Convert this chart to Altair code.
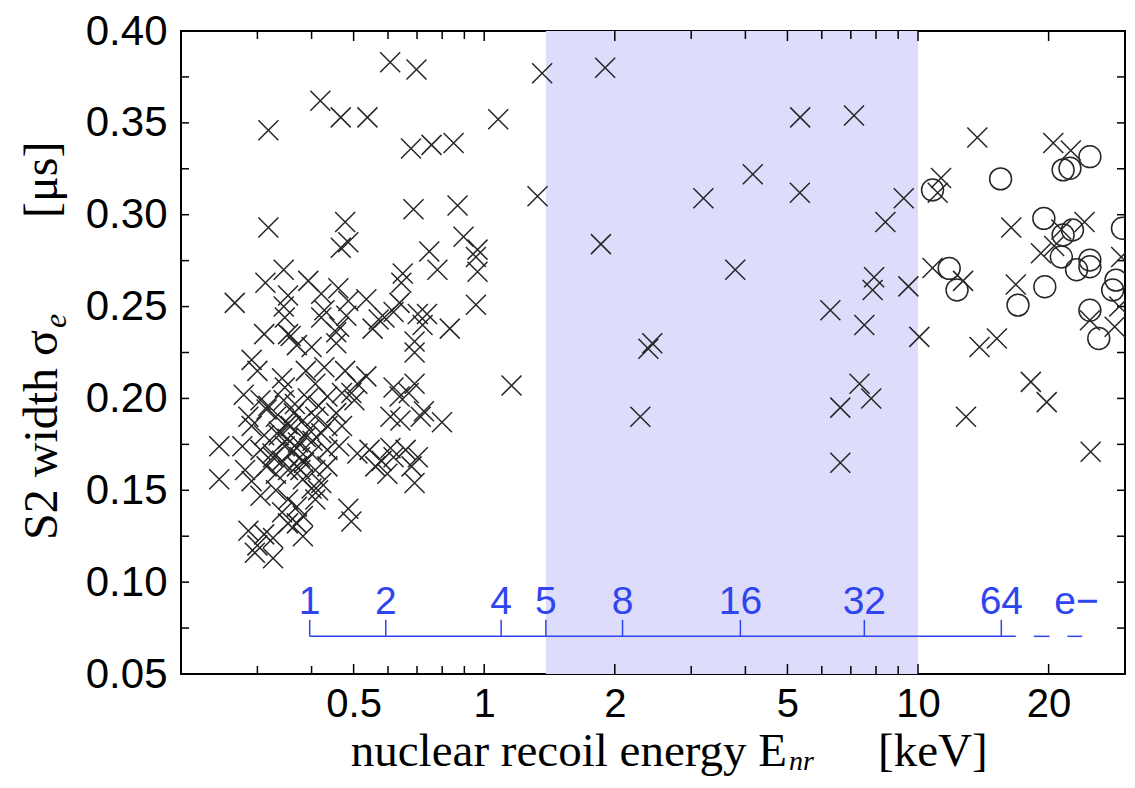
import altair as alt
import pandas as pd

# ---------------- data ----------------
cross_x = [
    0.607, 0.698, 1.36, 1.90, 0.419, 0.318, 0.467, 0.538, 1.077, 0.678, 0.756, 0.850,
    5.35, 7.12, 13.7, 20.5, 22.5, 4.16, 5.34, 11.3, 11.1, 1.327, 3.20, 9.27,
    0.687, 0.868, 0.318, 0.478, 0.896, 0.486, 0.467, 0.747, 0.965, 1.858, 8.41, 16.4,
    24.2, 21.4, 19.2, 29.4, 10.8, 12.7, 16.8, 7.92, 7.86, 9.5, 6.28, 7.52,
    10.07, 13.86, 15.2, 29.1, 28.4, 24.9, 3.79, 2.44, 2.39, 1.156, 2.29, 7.33,
    7.8, 6.62, 18.2, 19.8, 12.9, 25.0, 6.62, 0.957, 0.965, 0.957, 0.78, 20.6,
    # dense low-energy cluster
    0.345, 0.313, 0.353, 0.393, 0.421, 0.461, 0.486, 0.535, 0.644, 0.638, 0.589, 0.703,
    0.721, 0.833, 0.266, 0.345, 0.347, 0.421, 0.428, 0.463, 0.481, 0.553, 0.571, 0.311,
    0.353, 0.291, 0.300, 0.358, 0.370, 0.400, 0.456, 0.456, 0.691, 0.691, 0.428, 0.478,
    0.510, 0.535, 0.279, 0.305, 0.342, 0.347, 0.388, 0.408, 0.435, 0.470, 0.494, 0.502,
    0.618, 0.638, 0.691, 0.670, 0.726, 0.799, 0.641, 0.608, 0.286, 0.291, 0.315, 0.331,
    0.364, 0.358, 0.382, 0.408, 0.435, 0.456, 0.470, 0.421, 0.388, 0.336, 0.311, 0.277,
    0.245, 0.245, 0.305, 0.326, 0.347, 0.370, 0.376, 0.400, 0.435, 0.463, 0.510, 0.544,
    0.580, 0.608, 0.618, 0.659, 0.703, 0.561, 0.598, 0.691, 0.680, 0.281, 0.291, 0.315,
    0.331, 0.353, 0.370, 0.382, 0.408, 0.421, 0.400, 0.435, 0.331, 0.305, 0.353, 0.370,
    0.382, 0.408, 0.414, 0.342, 0.353, 0.486, 0.494, 0.286, 0.311, 0.300, 0.296, 0.326,
    0.326, 0.382, 0.370, 0.649, 0.618, 0.738, 0.714,
    0.336, 0.352, 0.372, 0.395, 0.325, 0.342, 0.362, 0.384, 0.402, 0.318, 0.345, 0.366,
    0.392, 0.415, 0.352, 0.377,
]
cross_y = [
    0.383, 0.379, 0.377, 0.380, 0.362, 0.346, 0.353, 0.353, 0.352, 0.336, 0.338, 0.339,
    0.353, 0.354, 0.342, 0.339, 0.335, 0.322, 0.312, 0.320, 0.312, 0.310, 0.309, 0.309,
    0.303, 0.305, 0.293, 0.296, 0.288, 0.285, 0.282, 0.280, 0.281, 0.284, 0.296, 0.293,
    0.296, 0.292, 0.279, 0.277, 0.271, 0.264, 0.262, 0.266, 0.259, 0.261, 0.248, 0.240,
    0.2335, 0.228, 0.2326, 0.250, 0.239, 0.2426, 0.270, 0.230, 0.227, 0.207, 0.190, 0.208,
    0.200, 0.195, 0.209, 0.198, 0.190, 0.171, 0.165, 0.277, 0.269, 0.251, 0.270, 0.283,
    0.270, 0.263, 0.256, 0.264, 0.257, 0.260, 0.253, 0.254, 0.263, 0.252, 0.244, 0.246,
    0.240, 0.238, 0.252, 0.250, 0.244, 0.244, 0.248, 0.239, 0.245, 0.238, 0.243, 0.235,
    0.235, 0.221, 0.215, 0.234, 0.229, 0.228, 0.236, 0.230, 0.225, 0.231, 0.217, 0.215,
    0.208, 0.212, 0.202, 0.199, 0.211, 0.206, 0.215, 0.208, 0.201, 0.203, 0.203, 0.199,
    0.206, 0.201, 0.208, 0.203, 0.193, 0.187, 0.188, 0.190, 0.190, 0.185, 0.194, 0.190,
    0.192, 0.185, 0.188, 0.190, 0.185, 0.192, 0.185, 0.181, 0.179, 0.180, 0.180, 0.174,
    0.174, 0.156, 0.172, 0.168, 0.174, 0.173, 0.168, 0.170, 0.172, 0.174, 0.170, 0.172,
    0.166, 0.173, 0.168, 0.172, 0.168, 0.163, 0.159, 0.154, 0.163, 0.161, 0.155, 0.163,
    0.159, 0.161, 0.163, 0.156, 0.161, 0.154, 0.151, 0.163, 0.150, 0.147, 0.145, 0.141,
    0.136, 0.145, 0.150, 0.138, 0.132, 0.140, 0.133, 0.128, 0.126, 0.120, 0.116, 0.113,
    0.124, 0.125, 0.132, 0.268, 0.247, 0.246, 0.190,
    0.182, 0.178, 0.176, 0.183, 0.170, 0.166, 0.171, 0.165, 0.177, 0.196, 0.199, 0.197,
    0.200, 0.196, 0.186, 0.161,
]
circle_x = [10.8, 15.5, 21.6, 22.4, 24.9, 19.5, 21.6, 22.7, 21.4, 23.2, 24.9, 24.9,
            29.6, 28.6, 28.1, 24.9, 26.1, 19.6, 17.0, 11.8, 12.3]
circle_y = [0.3135, 0.3195, 0.3244, 0.3253, 0.3316, 0.298, 0.289, 0.2917, 0.277, 0.270,
            0.2753, 0.2717, 0.2926, 0.2644, 0.259, 0.248, 0.2326, 0.2608, 0.2508, 0.2708, 0.259]

shade_start = [1.387]
shade_end = [10.0]

x_major = [0.5, 1, 2, 5, 10, 20]
x_minor = [0.3, 0.4, 0.6, 0.7, 0.8, 0.9, 3, 4, 6, 7, 8, 9]
y_major = [0.05, 0.10, 0.15, 0.20, 0.25, 0.30, 0.35, 0.40]
y_minor = [0.075, 0.125, 0.175, 0.225, 0.275, 0.325, 0.375]

e_tick_energy = [0.396, 0.593, 1.094, 1.387, 2.084, 3.895, 7.52, 15.56]
e_tick_label = ["1", "2", "4", "5", "8", "16", "32", "64"]
e_line_start = [0.396]
e_line_end = [16.8]
e_dash_start = [18.5, 22.1]
e_dash_end = [20.1, 23.9]
e_line_y = [0.0705]
e_tick_top = [0.0795]
e_label_y = [0.0825]
e_unit_x = [23.2]
e_unit_text = ["e\u2212"]

# ---------------- layout / style ----------------
W, H = 944, 643
BLUE = "#2f45f0"
INK = "#262626"
SANS = "Liberation Sans"
SERIF = "Liberation Serif"

xs = alt.Scale(type="log", domain=[0.2, 30], nice=False)
ys = alt.Scale(domain=[0.05, 0.40], nice=False, zero=False)

x_axis = alt.Axis(values=x_major, format="~g", domain=False, ticks=False, tickSize=0,
                  grid=False, labelFont=SANS, labelFontSize=40, labelColor="black",
                  labelPadding=10, labelFlush=False, title=None)
y_axis = alt.Axis(values=y_major, format=".2f", domain=False, ticks=False, tickSize=0,
                  grid=False, labelFont=SANS, labelFontSize=42, labelColor="black",
                  labelPadding=14, title=None)


def X(field):
    return alt.X(field, scale=xs, axis=x_axis)


def Y(field):
    return alt.Y(field, scale=ys, axis=y_axis)


shade = alt.Chart(pd.DataFrame({"a": shade_start, "b": shade_end})).mark_rect(
    color="#dddcfa").encode(
    x=X("a:Q"), x2="b:Q", y=alt.value(0), y2=alt.value(H))

cross_path = "M-1,-1L1,1M-1,1L1,-1"
crosses = alt.Chart(pd.DataFrame({"x": cross_x, "y": cross_y})).mark_point(
    shape=cross_path, filled=False, size=400, color=INK, strokeWidth=1.5,
    opacity=1, clip=True).encode(x=X("x:Q"), y=Y("y:Q"))

circles = alt.Chart(pd.DataFrame({"x": circle_x, "y": circle_y})).mark_point(
    shape="circle", filled=False, size=480, color=INK, strokeWidth=1.5,
    opacity=1, clip=True).encode(x=X("x:Q"), y=Y("y:Q"))


def xticks(vals, length):
    d = pd.DataFrame({"v": vals})
    bot = alt.Chart(d).mark_rule(color="black", strokeWidth=1.5).encode(
        x=X("v:Q"), y=alt.value(H), y2=alt.value(H - length))
    top = alt.Chart(d).mark_rule(color="black", strokeWidth=1.5).encode(
        x=X("v:Q"), y=alt.value(0), y2=alt.value(length))
    return [bot, top]


def yticks(vals, length):
    d = pd.DataFrame({"v": vals})
    left = alt.Chart(d).mark_rule(color="black", strokeWidth=1.5).encode(
        y=Y("v:Q"), x=alt.value(0), x2=alt.value(length))
    right = alt.Chart(d).mark_rule(color="black", strokeWidth=1.5).encode(
        y=Y("v:Q"), x=alt.value(W), x2=alt.value(W - length))
    return [left, right]


tick_layers = xticks(x_major, 10) + xticks(x_minor, 8) + yticks(y_major, 8) + yticks(y_minor, 8)

e_line = alt.Chart(pd.DataFrame({"a": e_line_start, "b": e_line_end, "y": e_line_y})).mark_rule(
    color=BLUE, strokeWidth=1.5).encode(x=X("a:Q"), x2="b:Q", y=Y("y:Q"))
e_dash = alt.Chart(pd.DataFrame({"a": e_dash_start, "b": e_dash_end,
                                 "y": e_line_y * len(e_dash_start)})).mark_rule(
    color=BLUE, strokeWidth=1.5).encode(x=X("a:Q"), x2="b:Q", y=Y("y:Q"))
n = len(e_tick_energy)
e_df = pd.DataFrame({"e": e_tick_energy, "lab": e_tick_label,
                     "y0": e_line_y * n, "y1": e_tick_top * n, "yl": e_label_y * n})
e_ticks = alt.Chart(e_df).mark_rule(color=BLUE, strokeWidth=1.5).encode(
    x=X("e:Q"), y=Y("y0:Q"), y2="y1:Q")
e_labels = alt.Chart(e_df).mark_text(color=BLUE, font=SANS, fontSize=39,
                                     baseline="alphabetic", align="center").encode(
    x=X("e:Q"), y=Y("yl:Q"), text="lab:N")
e_unit = alt.Chart(pd.DataFrame({"e": e_unit_x, "yl": e_label_y, "t": e_unit_text})).mark_text(
    color=BLUE, font=SANS, fontSize=39, baseline="alphabetic", align="center").encode(
    x=X("e:Q"), y=Y("yl:Q"), text="t:N")


def label(txt, x, y, size=47, align="left", angle=0, dy=0, style="normal"):
    return alt.Chart(pd.DataFrame({"t": [txt]})).mark_text(
        font=SERIF, fontSize=size, align=align, baseline="alphabetic", angle=angle,
        dy=dy, fontStyle=style, color="black").encode(
        x=alt.value(x), y=alt.value(y), text="t:N")


titles = [
    label("nuclear recoil energy E", 606, 735, align="right"),
    label("nr", 608, 735, size=28, dy=4, style="italic"),
    label("[keV]", 697, 735),
    label("S2 width \u03c3", -124, 299, size=48, align="right", angle=270),
    label("e", -124, 297, size=32, dy=9, angle=270, style="italic"),
    label("[\u03bcs]", -124, 187, size=48, angle=270),
]

chart = alt.layer(shade, *tick_layers, e_line, e_dash, e_ticks, e_labels, e_unit,
                  crosses, circles, *titles).properties(
    width=W, height=H,
    padding={"left": 173, "top": 23, "right": 2, "bottom": 102},
    autosize=alt.AutoSizeParams(type="none"),
    background="white",
).configure_view(stroke="black", strokeWidth=2)

chart.save("out.html", embed_options={"renderer": "svg", "actions": False})
